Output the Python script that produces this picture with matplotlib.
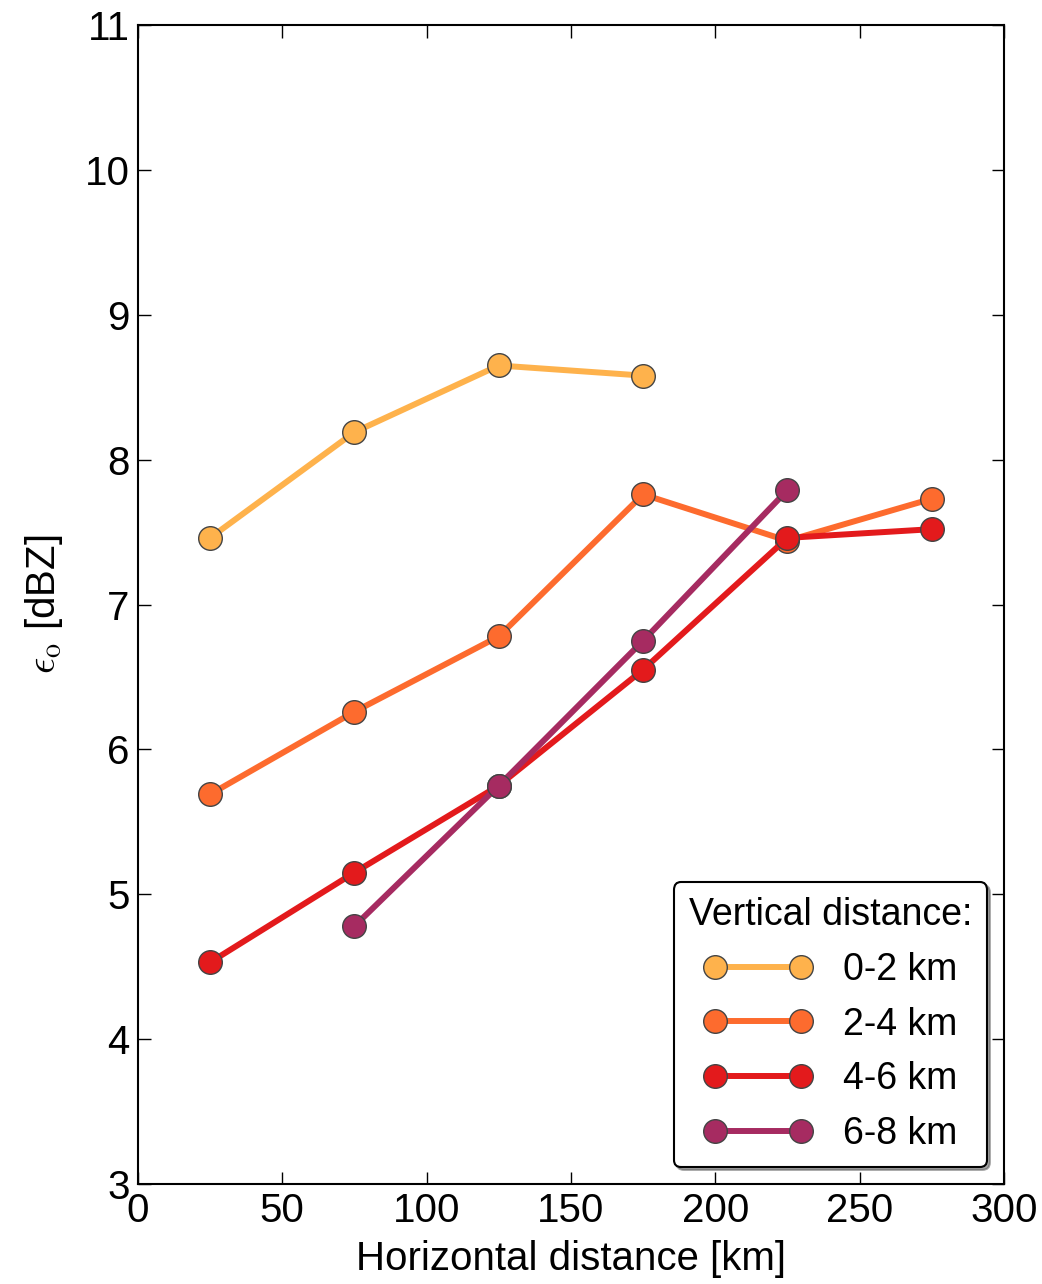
import numpy as np
import matplotlib
matplotlib.use('Agg')
import matplotlib.pyplot as plt

plt.rcParams['font.family'] = ['Liberation Sans', 'DejaVu Sans']
plt.rcParams['mathtext.fontset'] = 'cm'

# horizontal distance bins [km]
x_all = [25, 75, 125, 175, 225, 275]

labels = ['0-2 km', '2-4 km', '4-6 km', '6-8 km']
colors = ['#feb24c', '#fd6b2e', '#e31a1c', '#a62b61']

x_02 = [25, 75, 125, 175]
y_02 = [7.46, 8.19, 8.65, 8.58]

x_24 = [25, 75, 125, 175, 225, 275]
y_24 = [5.69, 6.26, 6.78, 7.76, 7.44, 7.73]

x_46 = [25, 75, 125, 175, 225, 275]
y_46 = [4.53, 5.15, 5.75, 6.55, 7.46, 7.52]

x_68 = [75, 125, 175, 225]
y_68 = [4.78, 5.75, 6.75, 7.79]

xs = [x_02, x_24, x_46, x_68]
ys = [y_02, y_24, y_46, y_68]

fig = plt.figure(figsize=(10.42, 12.84), dpi=100)
ax = fig.add_axes([0.1324, 0.0779, 0.8311, 0.9026])

for x, y, c, lab in zip(xs, ys, colors, labels):
    ax.plot(x, y, '-o', color=c, lw=4.3, ms=17, mfc=c, mec='#444444', mew=1.0, label=lab)

ax.set_xlim(0, 300)
ax.set_ylim(3, 11)
ax.set_xticks(np.arange(0, 301, 50))
ax.set_yticks(np.arange(3, 12, 1))
ax.tick_params(direction='in', top=True, right=True, length=9, width=1, labelsize=29, pad=6)
for s in ax.spines.values():
    s.set_linewidth(1.5)

ax.set_xlabel('Horizontal distance [km]', fontsize=29, labelpad=7)
ax.set_ylabel(r'$\epsilon_{\mathrm{o}}$ [dBZ]', fontsize=29, labelpad=14)

leg = ax.legend(title='Vertical distance:', loc='lower right', fontsize=27, title_fontsize=27,
                numpoints=2, fancybox=True, shadow=True, framealpha=1, edgecolor='black',
                handlelength=2.9, borderaxespad=0.45)
leg.get_frame().set_linewidth(1.5)

fig.savefig('out.png', dpi=100)
